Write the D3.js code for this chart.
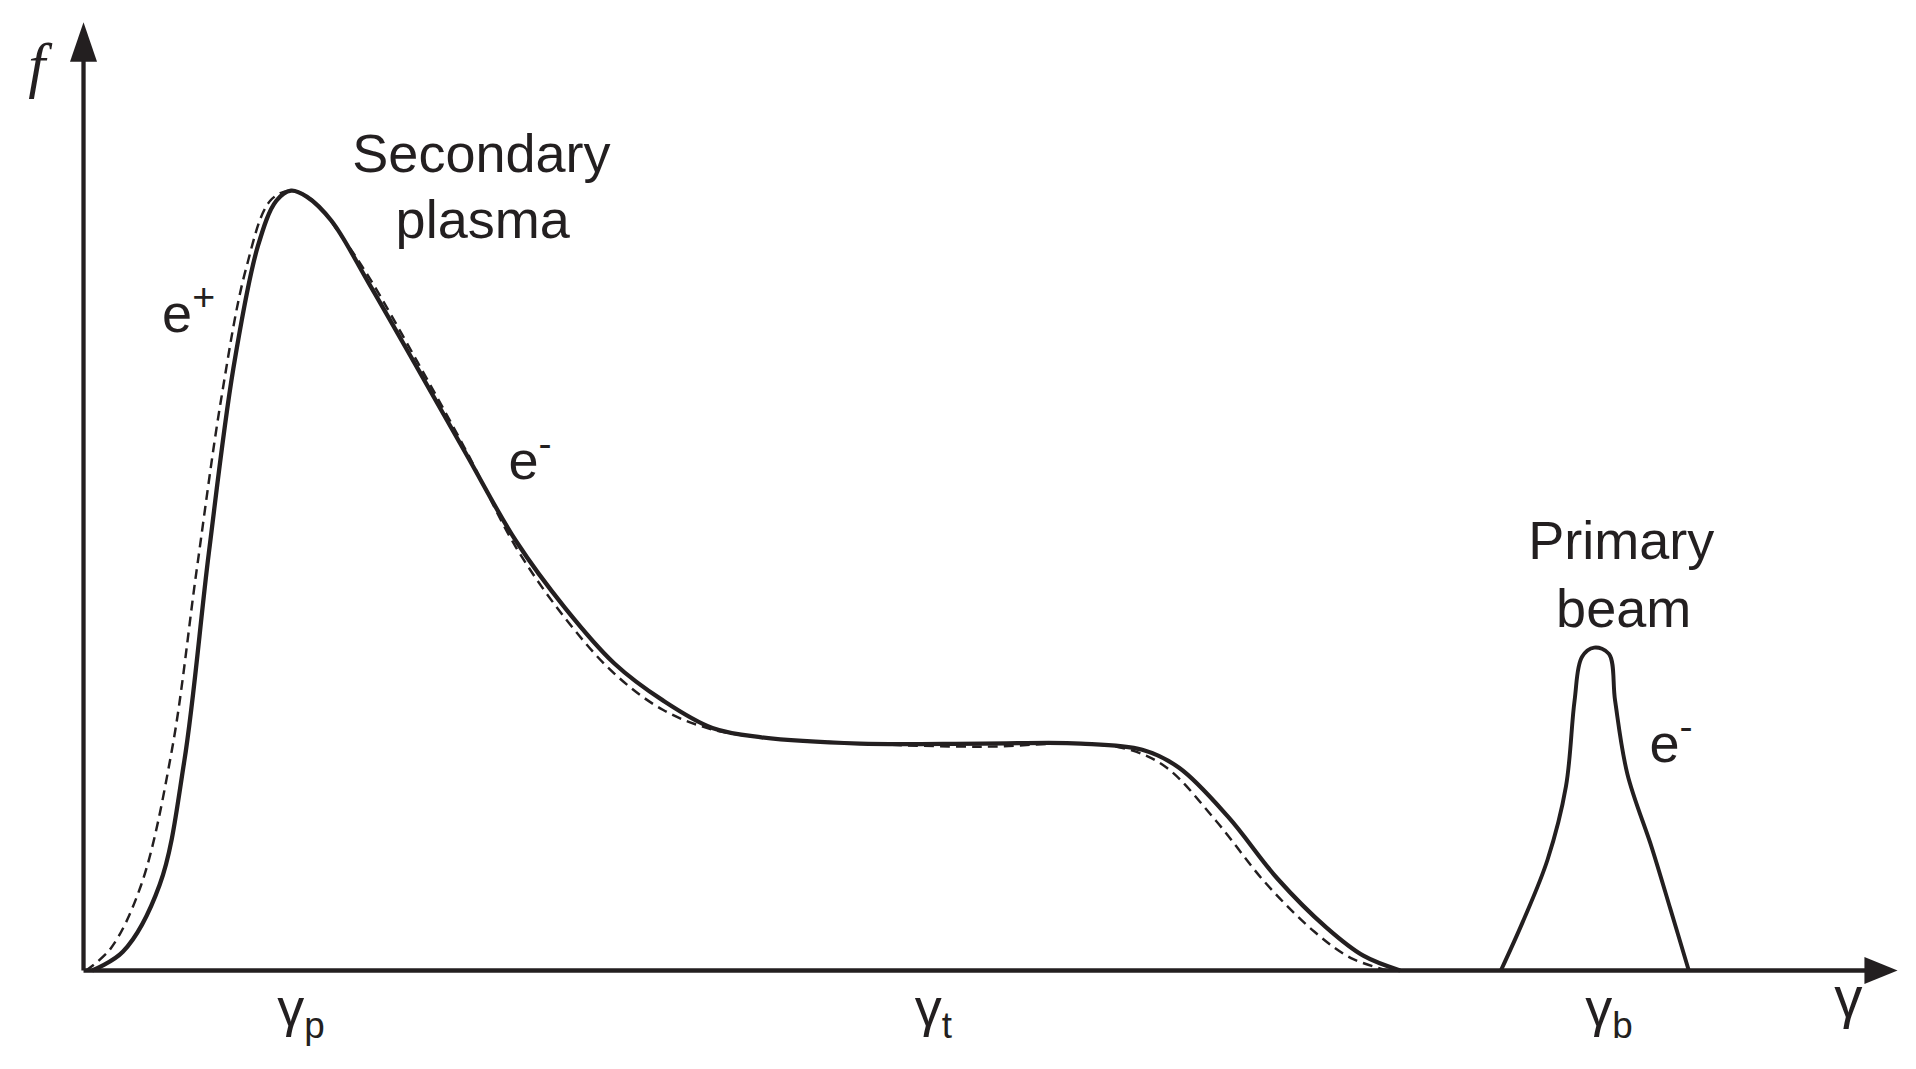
<!DOCTYPE html>
<html><head><meta charset="utf-8">
<script src="https://d3js.org/d3.v7.min.js"></script>
<style>body{margin:0;background:#fff}svg{display:block}</style>
</head><body>
<script>
// data (gamma arbitrary units, f normalised to peak = 100)
const solidGamma=[0.7,3.2,6.2,8.2,10.2,12.2,14.2,15.7,16.9,18.2,20.2,23.2,27.2,31.2,35.2,39.2,43.2,47.2,51.2,55.2,63.2,73.2,81.2,86.2,89.2,93.2,97.2,101.2,104.2,107.2];
const solidF=[0,2.4,11,26.8,53.5,77.2,92.9,98.7,100,99.2,96.1,88.2,77.2,66.1,55.1,46.5,39.4,34.6,31.1,29.9,29.1,29.1,29.1,28.3,26,19.7,11.8,5.5,1.9,0];
const dashGamma=[0.2,2.2,4.7,7.2,9.2,11.2,13.2,15.2,16.9,18.7,21.2,23.2,27.2,31.2,35.2,39.2,43.2,47.2,51.2,55.2,63.2,73.2,81.2,85.2,88.2,92.2,96.2,100.2,103.2,106.2];
const dashF=[0,2.8,11,28.3,51.2,73.2,89.8,98.7,100,98.7,93.7,89,78,66.5,54.3,45.2,38.1,33.4,30.9,29.9,29.1,28.7,29.1,28.3,26,19.2,11.3,5,1.6,0];
const beamGamma=[115.4,117.2,119.2,120.7,121.4,122,123,124.2,124.7,125.7,127.7,129.2,130.7];
const beamF=[0,6.3,14.2,23.6,34.6,40.2,41.4,40.6,34.6,25.2,15.7,7.9,0];
const tickGamma=[17.7,69.2,124.2];
const tickSubs=["p","t","b"];

const svg=d3.select("body").append("svg").attr("width",1916).attr("height",1069).attr("viewBox","0 0 1560 870");
const x=d3.scaleLinear().domain([0,147.7]).range([68,1545]);
const y=d3.scaleLinear().domain([0,100]).range([790,155]);
const line=d3.line().x(d=>x(d[0])).y(d=>y(d[1])).curve(d3.curveCatmullRom);
const zip=(a,b)=>a.map((v,i)=>[v,b[i]]);

svg.append("path").attr("d",line(zip(dashGamma,dashF))).attr("fill","none").attr("stroke","#231f20").attr("stroke-width",2).attr("stroke-dasharray","8,5");
svg.append("path").attr("d",line(zip(solidGamma,solidF))).attr("fill","none").attr("stroke","#231f20").attr("stroke-width",3.5);
svg.append("path").attr("d",line(zip(beamGamma,beamF))).attr("fill","none").attr("stroke","#231f20").attr("stroke-width",3.2);

// axes
const ax=svg.append("g").attr("transform","translate(0,790)").call(d3.axisBottom(x).tickValues(tickGamma).tickSize(0).tickFormat(""));
ax.select(".domain").attr("stroke","#231f20").attr("stroke-width",3.5).attr("d","M68,0H1525");
svg.append("path").attr("d","M1545,790L1518,779L1518,801Z").attr("fill","#231f20");
const ay=svg.append("g").attr("transform","translate(68,0)").call(d3.axisLeft(y).tickValues([]).tickSize(0));
ay.select(".domain").attr("stroke","#231f20").attr("stroke-width",3.5).attr("d","M0,790V40");
svg.append("path").attr("d","M68,18L57,50L79,50Z").attr("fill","#231f20");

const font="Liberation Sans, Arial, sans-serif";
tickGamma.forEach((g,i)=>{
  const t=svg.append("text").attr("x",x(g)).attr("y",835).attr("text-anchor","middle").attr("font-family",font).attr("font-size",44).attr("fill","#231f20");
  t.append("tspan").text("γ");
  t.append("tspan").attr("font-size",30).attr("dy",10).text(tickSubs[i]);
});
svg.append("text").attr("x",1505).attr("y",828).attr("text-anchor","middle").attr("font-family",font).attr("font-size",46).attr("fill","#231f20").text("γ");
svg.append("text").attr("x",30).attr("y",70).attr("text-anchor","middle").attr("font-family","Liberation Serif, serif").attr("font-style","italic").attr("font-size",50).attr("fill","#231f20").text("f");

function label(tx,ty,txt,sup){
  const t=svg.append("text").attr("x",tx).attr("y",ty).attr("font-family",font).attr("font-size",44).attr("fill","#231f20");
  t.append("tspan").text(txt);
  if(sup) t.append("tspan").attr("font-size",32).attr("dy",-18).text(sup);
  return t;
}
label(392,140,"Secondary").attr("text-anchor","middle");
label(393,194,"plasma").attr("text-anchor","middle");
label(132,270,"e","+");
label(414,390,"e","-");
label(1320,455,"Primary").attr("text-anchor","middle");
label(1322,510,"beam").attr("text-anchor","middle");
label(1343,620,"e","-");
</script>
</body></html>
